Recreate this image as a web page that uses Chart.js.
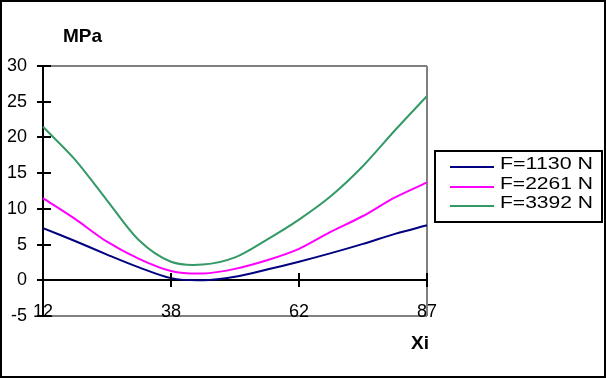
<!DOCTYPE html>
<html>
<head>
<meta charset="utf-8">
<script src="https://cdn.jsdelivr.net/npm/chart.js@4/dist/chart.umd.min.js"></script>
<style>
  html, body { margin: 0; padding: 0; background: #ffffff; }
  canvas { display: block; }
</style>
</head>
<body>
<canvas id="stressChart" width="606" height="378"></canvas>
<script>
// Xi positions (category axis, only every 4th label is shown)
const xiLabels = ['12', '18', '25', '31', '38', '44', '50', '56', '62', '68', '75', '81', '87'];
const shownLabels = ['12', '38', '62', '87'];

// Stress in MPa for each load
const f1130 = [7.3, 5.5, 3.6, 1.8, 0.3, 0.0, 0.5, 1.5, 2.6, 3.8, 5.1, 6.5, 7.7];
const f2261 = [11.5, 8.6, 5.4, 3.0, 1.3, 0.95, 1.6, 2.8, 4.4, 6.8, 9.0, 11.6, 13.7];
const f3392 = [21.5, 16.9, 11.2, 5.6, 2.6, 2.2, 3.2, 5.7, 8.5, 11.8, 16.0, 21.0, 25.8];

const seriesNames = ['F=1130 N', 'F=2261 N', 'F=3392 N'];
const seriesColors = ['#000080', '#ff00ff', '#339966'];

const FONT = '"Liberation Sans", Arial, sans-serif';

// Extra drawing: frame, axis titles, crossing tick marks, legend box
const decorPlugin = {
    id: 'decor',
    afterDraw(chart) {
        const ctx = chart.ctx;
        const xs = chart.scales.x;
        const ys = chart.scales.y;
        ctx.save();

        // outer frame
        ctx.strokeStyle = '#000000';
        ctx.lineWidth = 2;
        ctx.strokeRect(1, 1, 604, 376);

        // y tick marks crossing the axis
        ys.ticks.forEach(t => {
            const y = Math.round(ys.getPixelForValue(t.value));
            ctx.beginPath();
            ctx.moveTo(37, y);
            ctx.lineTo(51, y);
            ctx.stroke();
        });

        // x tick marks crossing the zero line
        const y0 = Math.round(ys.getPixelForValue(0));
        xiLabels.forEach((lab, i) => {
            if (i === 0 || !shownLabels.includes(lab)) return;
            const x = Math.round(xs.getPixelForValue(i));
            ctx.beginPath();
            ctx.moveTo(x, y0 - 7);
            ctx.lineTo(x, y0 + 7);
            ctx.stroke();
        });

        // axis titles
        ctx.fillStyle = '#000000';
        ctx.font = 'bold 19px ' + FONT;
        ctx.textBaseline = 'alphabetic';
        ctx.textAlign = 'left';
        ctx.fillText('MPa', 63, 42);
        ctx.fillText('Xi', 411, 349);

        // legend
        ctx.strokeRect(435, 151, 167, 71);
        ctx.font = '17px ' + FONT;
        const rowY = [167, 187, 206];
        chart.data.datasets.forEach((ds, i) => {
            ctx.strokeStyle = ds.borderColor;
            ctx.beginPath();
            ctx.moveTo(450, rowY[i]);
            ctx.lineTo(494, rowY[i]);
            ctx.stroke();
            const w = ctx.measureText(ds.label).width;
            ctx.save();
            ctx.translate(500, rowY[i] + 2);
            ctx.scale(93 / w, 1);
            ctx.fillStyle = '#000000';
            ctx.fillText(ds.label, 0, 0);
            ctx.restore();
        });

        ctx.restore();
    }
};

function makeDataset(label, values, color) {
    return {
        label: label,
        data: values,
        borderColor: color,
        backgroundColor: color,
        borderWidth: 2,
        pointRadius: 0,
        tension: 0.3,
        fill: false
    };
}

new Chart(document.getElementById('stressChart'), {
    type: 'line',
    data: {
        labels: xiLabels,
        datasets: [
            makeDataset(seriesNames[0], f1130, seriesColors[0]),
            makeDataset(seriesNames[1], f2261, seriesColors[1]),
            makeDataset(seriesNames[2], f3392, seriesColors[2])
        ]
    },
    options: {
        responsive: false,
        animation: false,
        devicePixelRatio: 1,
        layout: { padding: { left: 0, top: 66, right: 179, bottom: 32 } },
        plugins: {
            legend: { display: false },
            tooltip: { enabled: false }
        },
        scales: {
            x: {
                type: 'category',
                offset: false,
                afterFit: s => { s.height = 30; },
                border: { display: false },
                grid: {
                    drawTicks: false,
                    color: c => (c.index === xiLabels.length - 1 ? '#808080' : 'rgba(0,0,0,0)'),
                    lineWidth: 2
                },
                ticks: {
                    autoSkip: false,
                    maxRotation: 0,
                    mirror: true,
                    padding: -7,
                    color: '#000000',
                    font: { family: FONT, size: 18 },
                    callback: function (val, idx) {
                        const lab = xiLabels[idx];
                        return shownLabels.includes(lab) ? lab : '';
                    }
                }
            },
            y: {
                min: -5,
                max: 30,
                afterFit: s => { s.width = 43; },
                border: { display: true, color: '#000000', width: 2 },
                grid: {
                    drawTicks: false,
                    color: c => {
                        const v = c.tick.value;
                        if (v === 0) return '#000000';
                        if (v === 30 || v === -5) return '#808080';
                        return 'rgba(0,0,0,0)';
                    },
                    lineWidth: 2
                },
                ticks: {
                    stepSize: 5,
                    padding: 16,
                    color: '#000000',
                    font: { family: FONT, size: 18 }
                }
            }
        }
    },
    plugins: [decorPlugin]
});
</script>
</body>
</html>
